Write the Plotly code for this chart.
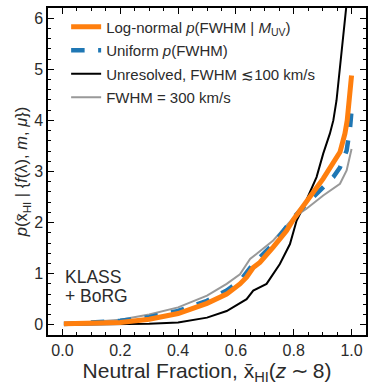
import plotly.graph_objects as go

# Data
lognorm_x = [0.005, 0.1, 0.2, 0.3, 0.4, 0.5, 0.568, 0.614, 0.637, 0.66, 0.683, 0.729, 0.775, 0.8, 0.844, 0.867, 0.902, 0.937, 0.96, 0.977, 0.985, 1.0]
lognorm_y = [0.02, 0.03, 0.046, 0.11, 0.22, 0.42, 0.60, 0.80, 0.93, 1.12, 1.22, 1.52, 1.84, 2.07, 2.43, 2.59, 2.86, 3.18, 3.38, 3.74, 4.0, 4.88]

uniform_x = [0.005, 0.1, 0.2, 0.3, 0.4, 0.5, 0.568, 0.614, 0.66, 0.729, 0.8, 0.844, 0.902, 0.937, 0.96, 0.983, 0.995, 1.0]
uniform_y = [0.013, 0.04, 0.078, 0.15, 0.27, 0.47, 0.67, 0.86, 1.19, 1.58, 2.10, 2.37, 2.69, 2.89, 3.08, 3.41, 3.87, 4.2]

unres_x = [0.005, 0.1, 0.2, 0.3, 0.4, 0.5, 0.568, 0.637, 0.66, 0.706, 0.752, 0.787, 0.81, 0.833, 0.879, 0.902, 0.925, 0.937, 0.948, 0.96, 0.971, 0.985]
unres_y = [0.0, 0.003, 0.01, 0.02, 0.046, 0.14, 0.27, 0.50, 0.67, 0.80, 1.19, 1.58, 2.04, 2.30, 2.89, 3.35, 3.74, 4.0, 4.39, 5.05, 5.7, 6.4]

fw300_x = [0.005, 0.1, 0.2, 0.3, 0.4, 0.5, 0.568, 0.614, 0.649, 0.672, 0.729, 0.8, 0.844, 0.902, 0.937, 0.96, 0.983, 1.0]
fw300_y = [0.013, 0.05, 0.098, 0.2, 0.34, 0.57, 0.80, 0.99, 1.29, 1.39, 1.65, 2.10, 2.27, 2.53, 2.66, 2.76, 3.02, 3.44]

x_ticks = [0, 0.2, 0.4, 0.6, 0.8, 1.0]
x_ticktext = ["0.0", "0.2", "0.4", "0.6", "0.8", "1.0"]

label_lines = ["KLASS", "+ BoRG"]
label_y = [0.94, 0.57]

FONT = "Liberation Sans, Arial, sans-serif"
TXT = "#2b2b2b"

fig = go.Figure()
fig.add_trace(go.Scatter(x=unres_x, y=unres_y, mode="lines", line=dict(color="black", width=2),
                         name="Unresolved, FWHM ≲100 km/s", legendrank=3, legendgroup="c"))
fig.add_trace(go.Scatter(x=fw300_x, y=fw300_y, mode="lines", line=dict(color="#999999", width=2),
                         name="FWHM = 300 km/s", legendrank=4, legendgroup="d"))
fig.add_trace(go.Scatter(x=uniform_x, y=uniform_y, mode="lines", line=dict(color="#1f77b4", width=4.5, dash="dash"),
                         name="Uniform <i>p</i>(FWHM)", legendrank=2, legendgroup="b"))
fig.add_trace(go.Scatter(x=lognorm_x, y=lognorm_y, mode="lines", line=dict(color="#ff7f0e", width=5),
                         name="Log-normal <i>p</i>(FWHM | <i>M</i><sub>UV</sub>)", legendrank=1, legendgroup="a"))

axis_common = dict(
    showline=True, linecolor="black", linewidth=1.5, mirror="ticks",
    ticks="inside", ticklen=6, tickwidth=1.2, tickcolor="black",
    showgrid=False, zeroline=False, automargin=False,
    tickfont=dict(family=FONT, size=16, color=TXT),
)

fig.update_xaxes(range=[-0.05, 1.05], tickvals=x_ticks, ticktext=x_ticktext,
                 minor=dict(dtick=0.05, tick0=0, ticks="inside", ticklen=3, tickcolor="black", tickwidth=1),
                 title=dict(text="Neutral Fraction, x̄<sub>HI</sub>(<i>z</i>\u2009∼\u20098)", font=dict(family=FONT, size=21, color=TXT), standoff=2),
                 **axis_common)
fig.update_yaxes(range=[-0.2, 6.2], dtick=1, tick0=0,
                 minor=dict(dtick=0.2, tick0=0, ticks="inside", ticklen=3, tickcolor="black", tickwidth=1),
                 title=dict(text="<i>p</i>(x̄<sub>HI</sub> | {<i>f</i>(λ), <i>m</i>, <i>μ</i>})", font=dict(family=FONT, size=16.5, color=TXT), standoff=2),
                 **axis_common)

for txt, yv in zip(label_lines, label_y):
    fig.add_annotation(x=0.003, y=yv, xref="x", yref="y", xanchor="left", yanchor="middle",
                       text=txt, showarrow=False, align="left",
                       font=dict(family=FONT, size=17.5, color=TXT))

fig.update_layout(
    width=374, height=390,
    margin=dict(l=48, r=8, t=8, b=55, autoexpand=False),
    paper_bgcolor="white", plot_bgcolor="white",
    showlegend=True,
    legend=dict(x=0.057, y=0.992, xanchor="left", yanchor="top", bgcolor="rgba(0,0,0,0)",
                traceorder="grouped",
                font=dict(family=FONT, size=15, color=TXT), tracegroupgap=1, itemwidth=30),
)

fig.write_html("out.html", config={"displayModeBar": False},
               post_script="document.body.style.margin='0px';document.body.style.padding='0px';")
